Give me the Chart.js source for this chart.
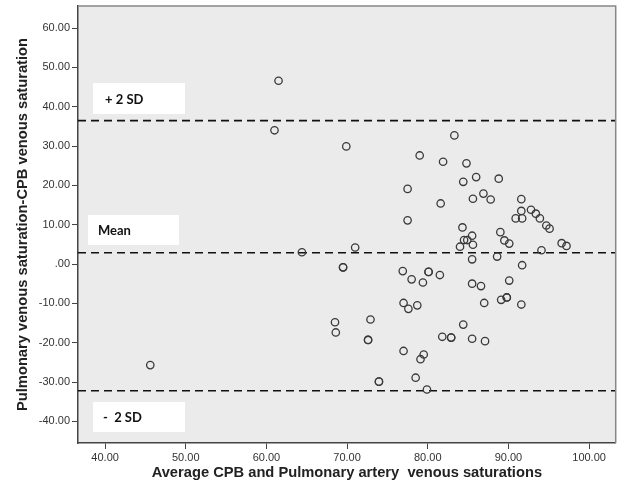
<!DOCTYPE html>
<html>
<head>
<meta charset="utf-8">
<script src="https://cdn.jsdelivr.net/npm/chart.js@4.4.1/dist/chart.umd.min.js"></script>
<style>
  html, body { margin: 0; padding: 0; background: #ffffff; }
  #wrap { width: 621px; height: 493px; position: relative; }
</style>
</head>
<body>
<div id="wrap"><canvas id="chart"></canvas></div>
<script>
// Bland-Altman data: average of the two saturations (x) and their difference (y)
const avgSat = [
  45.6, 61.5, 61.0, 64.4, 69.9, 71.0, 69.5, 69.5, 68.5, 68.6,
  72.9, 72.6, 72.6, 73.95, 73.95, 76.9, 80.1, 80.1, 81.5, 78.0,
  79.4, 77.0, 77.6, 78.7, 77.0, 79.5, 79.1, 78.5, 79.9, 77.5,
  77.5, 79.0, 81.9, 83.3, 84.8, 86.0, 88.8, 84.4, 86.9, 85.6,
  87.8, 81.6, 91.6, 91.6, 92.8, 93.4, 93.9, 90.9, 91.7, 94.7,
  95.1, 84.3, 89.0, 89.5, 90.1, 85.5, 84.5, 84.9, 85.6, 84.0,
  96.6, 97.2, 94.1, 85.5, 88.6, 91.7, 90.1, 85.5, 86.6, 87.0,
  89.1, 89.8, 89.8, 91.6, 84.4, 81.8, 82.9, 82.9, 85.5, 87.1
];
const diffSat = [
  -25.7, 46.6, 34.0, 3.0, 29.9, 4.2, -0.85, -0.85, -14.8, -17.4,
  -14.1, -19.3, -19.3, -29.9, -29.9, -1.8, -2.0, -2.0, -2.8, -3.9,
  -4.7, -9.9, -11.4, -10.5, -22.1, -23.0, -24.2, -28.9, -31.9, 19.1,
  11.1, 27.6, 26.0, 32.7, 25.6, 22.1, 21.7, 20.9, 17.9, 16.6,
  16.4, 15.4, 16.5, 13.5, 13.8, 12.8, 11.6, 11.6, 11.6, 9.8,
  9.0, 9.3, 8.1, 6.0, 5.2, 7.2, 6.1, 6.1, 4.9, 4.4,
  5.3, 4.6, 3.5, 1.2, 1.9, -0.3, -4.2, -5.0, -5.6, -9.9,
  -9.1, -8.5, -8.5, -10.3, -15.4, -18.5, -18.7, -18.7, -19.0, -19.6
];

// Reference lines
const meanDiff = 2.88;
const upperLimit = 36.46;
const lowerLimit = -32.2;

// Axes
const xRange = [36.64, 103.3];
const yRange = [-45.5, 65.6];
const xTicks = [40, 50, 60, 70, 80, 90, 100];
const yTicks = [-40, -30, -20, -10, 0, 10, 20, 30, 40, 50, 60];

function fmtTick(v) {
  return v === 0 ? '.00' : v.toFixed(2);
}

const points = avgSat.map((x, i) => ({ x: x, y: diffSat[i] }));

function hLine(v) {
  return {
    type: 'line',
    data: [{ x: xRange[0], y: v }, { x: xRange[1], y: v }],
    borderColor: '#111111',
    borderWidth: 1.6,
    borderDash: [8, 5],
    pointRadius: 0,
    fill: false
  };
}

// Plot background, frame and the white label boxes
const decorPlugin = {
  id: 'decor',
  beforeDraw(chart) {
    const { ctx, chartArea: a } = chart;
    ctx.save();
    ctx.fillStyle = '#ebebeb';
    ctx.fillRect(a.left, a.top, a.right - a.left, a.bottom - a.top);
    ctx.restore();
  },
  afterDraw(chart) {
    const { ctx, chartArea: a } = chart;
    ctx.save();
    ctx.strokeStyle = '#888888';
    ctx.lineWidth = 1.5;
    ctx.beginPath();
    ctx.moveTo(a.left, a.top);
    ctx.lineTo(a.right, a.top);
    ctx.lineTo(a.right, a.bottom);
    ctx.stroke();

    const boxes = [
      { text: '+ 2 SD', x: 93, y: 83, w: 92, h: 31, tx: 105 },
      { text: 'Mean', x: 88, y: 215, w: 91, h: 30, tx: 98 },
      { text: '-  2 SD', x: 93, y: 402, w: 92, h: 30, tx: 103 }
    ];
    ctx.font = 'bold 13px Lato, "Open Sans", sans-serif';
    ctx.textBaseline = 'middle';
    boxes.forEach(b => {
      ctx.fillStyle = '#ffffff';
      ctx.fillRect(b.x, b.y, b.w, b.h);
      ctx.fillStyle = '#111111';
      ctx.fillText(b.text, b.tx, b.y + b.h / 2 + 1);
    });
    ctx.restore();
  }
};

new Chart(document.getElementById('chart'), {
  type: 'scatter',
  data: {
    datasets: [
      {
        data: points,
        pointStyle: 'circle',
        pointRadius: 3.7,
        pointBorderWidth: 1.3,
        borderColor: '#3a3a3a',
        backgroundColor: 'rgba(0,0,0,0)'
      },
      hLine(upperLimit),
      hLine(meanDiff),
      hLine(lowerLimit)
    ]
  },
  options: {
    responsive: true,
    maintainAspectRatio: false,
    animation: false,
    layout: { padding: { top: 6, right: 2, left: 0, bottom: 0 } },
    plugins: {
      legend: { display: false },
      tooltip: { enabled: false }
    },
    scales: {
      x: {
        type: 'linear',
        min: xRange[0],
        max: xRange[1],
        afterBuildTicks: s => { s.ticks = xTicks.map(v => ({ value: v })); },
        afterFit: s => { s.height = 50; s.paddingLeft = 0; s.paddingRight = 0; },
        ticks: {
          callback: fmtTick,
          color: '#333333',
          font: { family: '"Liberation Sans", Arial, sans-serif', size: 11 },
          padding: 2,
          maxRotation: 0
        },
        grid: { drawOnChartArea: false, tickLength: 6, color: '#444444', tickColor: '#444444' },
        border: { color: '#444444', width: 1.5 },
        title: {
          display: true,
          text: 'Average CPB and Pulmonary artery  venous saturations',
          color: '#222222',
          font: { family: '"Liberation Sans", Arial, sans-serif', size: 14.7, weight: 'bold' },
          padding: { top: 0, bottom: 11 }
        }
      },
      y: {
        type: 'linear',
        min: yRange[0],
        max: yRange[1],
        afterBuildTicks: s => { s.ticks = yTicks.map(v => ({ value: v })); },
        afterFit: s => { s.width = 78; s.paddingTop = 0; s.paddingBottom = 0; },
        ticks: {
          callback: fmtTick,
          color: '#333333',
          font: { family: '"Liberation Sans", Arial, sans-serif', size: 11 },
          padding: 2
        },
        grid: { drawOnChartArea: false, tickLength: 6, color: '#444444', tickColor: '#444444' },
        border: { color: '#444444', width: 1.5 },
        title: {
          display: true,
          text: 'Pulmonary venous saturation-CPB venous saturation',
          color: '#222222',
          font: { family: '"Liberation Sans", Arial, sans-serif', size: 14.7, weight: 'bold' },
          padding: { top: 14, bottom: 0 }
        }
      }
    }
  },
  plugins: [decorPlugin]
});
</script>
</body>
</html>
